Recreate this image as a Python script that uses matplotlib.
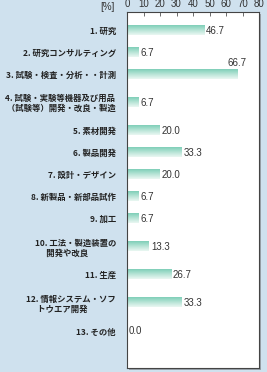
import matplotlib
matplotlib.use("Agg")
import matplotlib.pyplot as plt
import numpy as np
from matplotlib.colors import LinearSegmentedColormap
from matplotlib.patches import Rectangle

BG = "#cfe1ee"
TEXT = "#222222"
NUM = "#333333"

categories = [
    "1. 研究",
    "2. 研究コンサルティング",
    "3. 試験・検査・分析・・計測",
    "4. 試験・実験等機器及び用品\n （試験等）開発・改良・製造",
    "5. 素材開発",
    "6. 製品開発",
    "7. 設計・デザイン",
    "8. 新製品・新部品試作",
    "9. 加工",
    "10. 工法・製造装置の\n      開発や改良",
    "11. 生産",
    "12. 情報システム・ソフ\n      トウエア開発",
    "13. その他",
]
values = [46.7, 6.7, 66.7, 6.7, 20.0, 33.3, 20.0, 6.7, 6.7, 13.3, 26.7, 33.3, 0.0]
xticks = [0, 10, 20, 30, 40, 50, 60, 70, 80]

# row heights (in pixels) depend on number of label lines
half = [17 if "\n" in c else 11 for c in categories]
ypos = []
y = 7
for h in half:
    y += h
    ypos.append(y)
    y += h
ybottom = ypos[-1] + 11 + 26

W, H = 267, 372
fig = plt.figure(figsize=(W / 100, H / 100), dpi=100, facecolor=BG)

# drop shadow behind the plot box
shadow = fig.add_axes([129 / W, 1 - 370 / H, 132 / W, 356 / H], zorder=0)
shadow.set_axis_off()
shadow.add_patch(Rectangle((0, 0), 1, 1, transform=shadow.transAxes,
                           facecolor="#9aa3aa", edgecolor="none"))

ax = fig.add_axes([127 / W, 1 - 368 / H, 132 / W, 356 / H], zorder=1)
ax.set_facecolor("white")

cmap = LinearSegmentedColormap.from_list("mint", ["#7fcfb8", "#b6e4d6", "#eaf7f2"])
grad = np.linspace(0, 1, 32).reshape(-1, 1)
bh = 9
bars = ax.barh(ypos, values, height=bh, color="none", edgecolor="none")
for rect, v in zip(bars, values):
    if v <= 0:
        continue
    x0, y0 = rect.get_x(), rect.get_y()
    ax.imshow(grad, cmap=cmap, aspect="auto", interpolation="bilinear",
              extent=(x0, x0 + rect.get_width(), y0 + bh, y0), zorder=2)

ax.set_xlim(0, 80)
ax.set_ylim(ybottom, 0)

for yy, v in zip(ypos, values):
    if v > 60:
        ax.text(v, yy - 6, f"{v:.1f}", ha="center", va="bottom", fontsize=7,
                color=NUM, family="Liberation Sans")
    else:
        ax.text(v + 1.2, yy + 0.5, f"{v:.1f}", ha="left", va="center", fontsize=7,
                color=NUM, family="Liberation Sans")

ax.set_xticks(xticks)
ax.xaxis.tick_top()
ax.tick_params(axis="x", direction="in", length=3, width=0.6, color="#555555",
               labelsize=7, labelcolor=NUM, pad=2)
for t in ax.get_xticklabels():
    t.set_family("Liberation Sans")

ax.set_yticks(ypos)
ax.set_yticklabels(categories, fontsize=6, color=TEXT, linespacing=1.1,
                   family=["Noto Sans CJK JP", "DejaVu Sans"], fontweight="bold")
for t in ax.get_yticklabels():
    t.set_multialignment("left")
ax.tick_params(axis="y", length=0, pad=8)

for s in ax.spines.values():
    s.set_color("#444444")
    s.set_linewidth(0.8)

fig.text(107 / W, 1 - 7 / H, "[%]", ha="center", va="center", fontsize=7,
         color=NUM, family="Liberation Sans")

fig.savefig("out.png", dpi=100, facecolor=BG)
